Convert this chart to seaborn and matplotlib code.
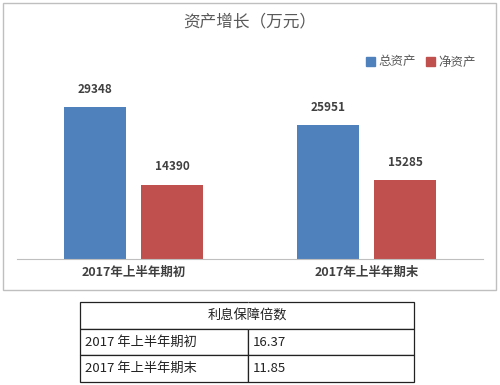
import matplotlib.pyplot as plt
import matplotlib.patches as mpatches
import pandas as pd
import seaborn as sns

periods = ['2017年上半年期初', '2017年上半年期末']
series = ['总资产', '净资产']
total_assets = [29348, 25951]
net_assets = [14390, 15285]
colors = ['#4F81BD', '#C0504D']

table_title = '利息保障倍数'
table_rows = ['2017 年上半年期初', '2017 年上半年期末']
table_values = ['16.37', '11.85']

df = pd.DataFrame({
    'period': periods * 2,
    'series': [series[0]] * 2 + [series[1]] * 2,
    'value': total_assets + net_assets,
})

sns.set_style('white')
plt.rcParams['font.family'] = ['Noto Sans CJK SC', 'DejaVu Sans']

W, H = 500, 385
fig = plt.figure(figsize=(5, 3.85), dpi=100)

# chart frame
fig.patches.append(mpatches.Rectangle((3 / W, 1 - 290 / H), 493 / W, 287 / H,
                                      transform=fig.transFigure, fill=False,
                                      edgecolor='#BFBFBF', linewidth=1))

ax = fig.add_axes([17 / W, 1 - 259 / H, 466 / W, 181 / H])
sns.barplot(data=df, x='period', y='value', hue='series', palette=colors,
            width=0.665, gap=0.2, ax=ax, legend=False, saturation=1,
            linewidth=0)
ax.set_xlim(-0.5, 1.5)
ax.set_ylim(0, 35000)
for c in ax.containers:
    ax.bar_label(c, labels=[f'{v:.0f}' for v in c.datavalues], padding=8,
                 fontsize=8.5, fontweight='bold', color='#404040')
for s in ['left', 'right', 'top']:
    ax.spines[s].set_visible(False)
ax.spines['bottom'].set_color('#BFBFBF')
ax.set_yticks([])
ax.set_xlabel('')
ax.set_ylabel('')
ax.tick_params(axis='x', length=0, pad=5, labelsize=9, labelcolor='#404040')
for t in ax.get_xticklabels():
    t.set_fontweight('bold')

fig.text(250 / W, 1 - 22 / H, '资产增长（万元）', ha='center', va='center',
         fontsize=12, color='#595959')

handles = [mpatches.Patch(color=c, label=s) for c, s in zip(colors, series)]
fig.legend(handles=handles, loc='center', bbox_to_anchor=(421 / W, 1 - 62 / H),
           ncol=2, frameon=False, fontsize=9, handlelength=0.7, handleheight=0.7,
           handletextpad=0.3, columnspacing=0.8, labelcolor='#595959')

# table
axt = fig.add_axes([80 / W, 1 - 382 / H, 334 / W, 80 / H])
axt.axis('off')
cells = [['', '']] + [[r, v] for r, v in zip(table_rows, table_values)]
tbl = axt.table(cellText=cells, bbox=[0, 0, 1, 1], cellLoc='left',
                colWidths=[168 / 334, 166 / 334])
tbl.auto_set_font_size(False)
for (r, c), cell in tbl.get_celld().items():
    cell.set_edgecolor('#222222')
    cell.set_linewidth(0.9)
    cell.get_text().set_fontsize(9.5)
    cell.get_text().set_color('#222222')
    cell.PAD = 0.03
    if r == 0:
        cell.visible_edges = 'BLT' if c == 0 else 'BRT'
axt.text(0.5, 1 - 13 / 80, table_title, ha='center', va='center',
         fontsize=9.5, color='#222222', transform=axt.transAxes)

fig.savefig('out.png', dpi=100)
